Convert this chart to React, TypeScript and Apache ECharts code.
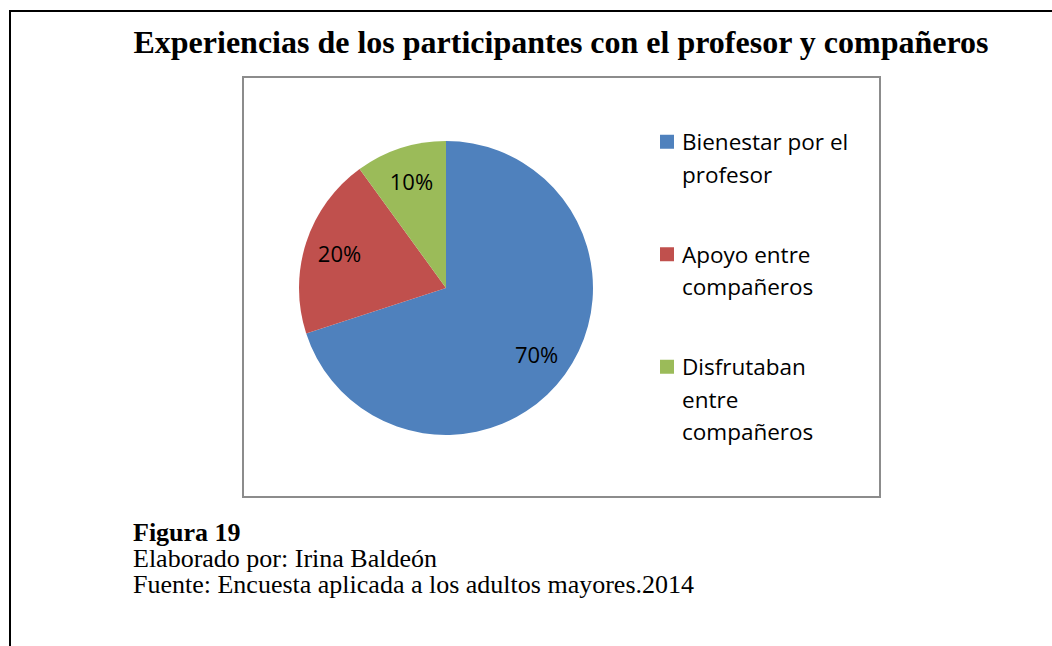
import React, { useEffect, useRef } from "react";
import * as echarts from "echarts";

const categories = [
  "Bienestar por el profesor",
  "Apoyo entre compañeros",
  "Disfrutaban entre compañeros",
];
const legendLines = [
  ["Bienestar por el", "profesor"],
  ["Apoyo entre", "compañeros"],
  ["Disfrutaban", "entre", "compañeros"],
];
const values = [70, 20, 10];
const colors = ["#4F81BD", "#C0504D", "#9BBB59"];
const titleText = "Experiencias de los participantes con el profesor y compañeros";
const footerLines = [
  "Figura 19",
  "Elaborado por: Irina Baldeón",
  "Fuente: Encuesta aplicada a los adultos mayores.2014",
];

const SANS = "'Open Sans', Lato, sans-serif";
const SERIF = "'Liberation Serif', 'DejaVu Serif', serif";

export default function App() {
  const ref = useRef<HTMLDivElement>(null);
  useEffect(() => {
    document.body.style.margin = "0";
    const chart = echarts.init(ref.current!, undefined, { renderer: "svg" });
    const LH = 32.5;
    const rich: Record<string, any> = {
      t: { fontFamily: SANS, fontSize: 22.5, color: "#000", lineHeight: LH },
      gap: { width: 8, height: 14, lineHeight: LH },
      ind: { width: 22, height: 14, lineHeight: LH },
    };
    colors.forEach((c, i) => {
      rich["sq" + i] = { width: 14, height: 14, backgroundColor: c, lineHeight: LH };
    });
    const data = categories.map((name, i) => ({
      name,
      value: values[i],
      itemStyle: { color: colors[i] },
    }));
    chart.setOption({
      animation: false,
      backgroundColor: "#fff",
      legend: {
        orient: "vertical",
        left: 655,
        top: 125.5,
        padding: 0,
        itemWidth: 0,
        itemHeight: 14,
        itemGap: 47.5,
        icon: "none",
        selectedMode: false,
        data: categories,
        formatter: (name: string) => {
          const i = categories.indexOf(name);
          return legendLines[i]
            .map((l, j) => (j === 0 ? `{sq${i}|}{gap|}{t|${l}}` : `{ind|}{t|${l}}`))
            .join("\n");
        },
        textStyle: { lineHeight: LH, rich },
      },
      graphic: [
        {
          type: "rect",
          shape: { x: 10, y: 11, width: 1200, height: 800 },
          style: { fill: "none", stroke: "#000", lineWidth: 2 },
          silent: true,
        },
        {
          type: "rect",
          shape: { x: 243, y: 77, width: 637, height: 420 },
          style: { fill: "none", stroke: "#8c8c8c", lineWidth: 2 },
          silent: true,
        },
        {
          type: "text",
          x: 561,
          y: 42,
          style: {
            text: titleText,
            font: `bold 32px ${SERIF}`,
            fill: "#000",
            align: "center",
            verticalAlign: "middle",
          },
        },
        ...footerLines.map((t, i) => ({
          type: "text",
          x: 133,
          y: 532 + i * 26,
          style: {
            text: t,
            font: `${i === 0 ? "bold " : ""}26px ${SERIF}`,
            fill: "#000",
            align: "left",
            verticalAlign: "middle",
          },
        })),
      ],
      series: [
        {
          type: "pie",
          center: [446, 288],
          radius: [0, 147],
          startAngle: 90,
          clockwise: true,
          silent: true,
          label: { show: false },
          labelLine: { show: false },
          itemStyle: { borderWidth: 0 },
          data,
        },
        {
          type: "pie",
          center: [446, 288],
          radius: [71, 147],
          startAngle: 90,
          clockwise: true,
          silent: true,
          legendHoverLink: false,
          itemStyle: { color: "rgba(0,0,0,0)", borderWidth: 0 },
          label: {
            show: true,
            position: "inside",
            formatter: "{c}%",
            fontFamily: SANS,
            fontSize: 22,
            color: "#000",
          },
          labelLine: { show: false },
          data: categories.map((name, i) => ({ name, value: values[i] })),
        },
      ],
    });
    return () => chart.dispose();
  }, []);
  return <div ref={ref} style={{ width: 1052, height: 646 }} />;
}
